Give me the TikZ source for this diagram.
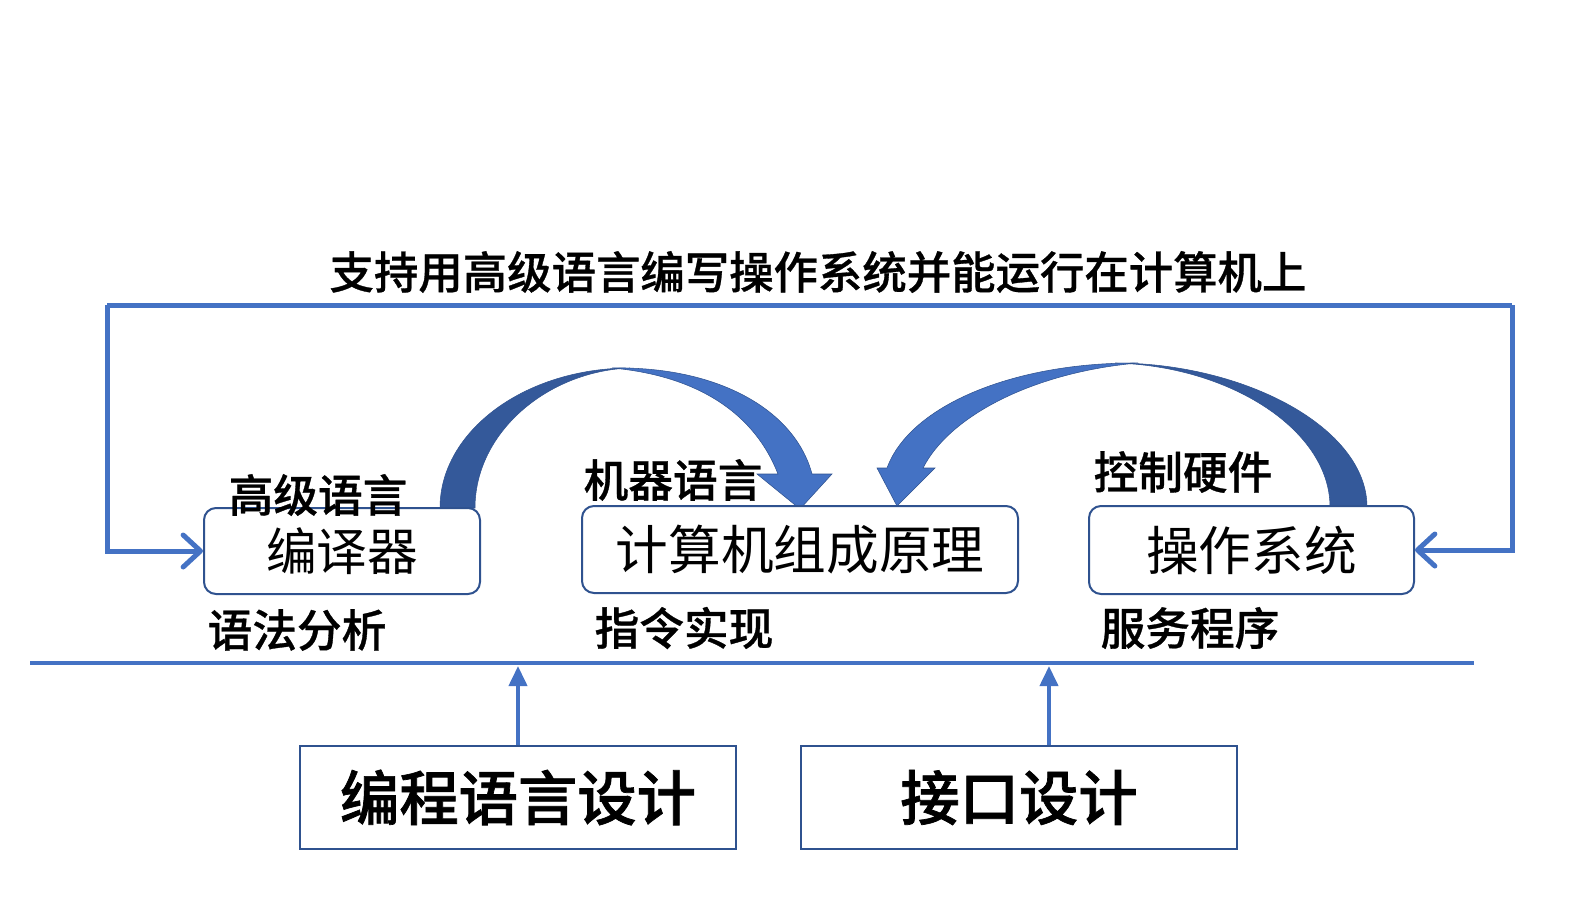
\documentclass[tikz,border=0pt]{standalone}
\usepackage{fontspec}
\newfontfamily\cjk{Noto Sans CJK SC}
\IfFontExistsTF{Noto Sans CJK SC Medium}
  {\newfontfamily\cjkb{Noto Sans CJK SC Medium}[FakeBold=0.7]
   \newfontfamily\cjkbb{Noto Sans CJK SC Medium}[FakeBold=1.2]}
  {\newfontfamily\cjkb{Noto Sans CJK SC}[FakeBold=1.5]
   \newfontfamily\cjkbb{Noto Sans CJK SC}[FakeBold=2]}
\usetikzlibrary{arrows.meta}
\definecolor{lblue}{HTML}{4472C4}
\definecolor{dblue}{HTML}{34599A}
\definecolor{bord}{HTML}{2F528F}
\begin{document}
\begin{tikzpicture}[x=0.75pt,y=-0.75pt,
  every node/.style={inner sep=0pt, font=\cjk},
  roundbox/.style={draw=bord, line width=1.5pt, rounded corners=9pt, fill=white},
  sqbox/.style={draw=bord, line width=1.5pt, fill=white, minimum width=327pt, minimum height=77pt},
  fb/.style={draw=lblue, line width=3.75pt},
  fbtip/.style={-{Straight Barb[length=13pt,width=24pt,round]}},
  divline/.style={draw=lblue, line width=3.6pt},
  uparrow/.style={draw=lblue, line width=3pt, -{Triangle[length=15pt,width=13.5pt]}},
  lbl/.style={font=\cjkb\fontsize{33.5}{38}\selectfont},
  boxtxt/.style={font=\cjk\fontsize{39.5}{44}\selectfont},
  bigtxt/.style={font=\cjkbb\fontsize{44.5}{50}\selectfont},
  bandline/.style={draw=bord, line width=0.4pt}
]
\useasboundingbox (0,0) rectangle (1574,897);

% curved block arrow 1 (compiler -> computer organisation)
\filldraw[fill=dblue, bandline] (440,508) .. controls (440,431) and (525,368) .. (630,368)
  .. controls (548,371) and (475,432) .. (475,508) -- cycle;
\filldraw[fill=lblue, bandline] (612,368) .. controls (718,366) and (795,410) .. (812,474)
  -- (832,474) -- (800,509) -- (757,474) -- (778,474)
  .. controls (755,415) and (700,376) .. (612,368) -- cycle;

% curved block arrow 2 (operating system -> computer organisation)
\filldraw[fill=dblue, bandline] (1367,507) .. controls (1367,428) and (1245,363) .. (1115,363)
  .. controls (1230,366) and (1330,430) .. (1330,507) -- cycle;
\filldraw[fill=lblue, bandline] (1138,363) .. controls (1015,362) and (910,405) .. (887,468)
  -- (877,468) -- (897,506) -- (935,468) -- (923,468)
  .. controls (950,415) and (1035,372) .. (1138,363) -- cycle;

% boxes
\node[roundbox, font=\cjk\fontsize{38}{42}\selectfont, minimum width=207pt, minimum height=64.5pt] (b1) at (342,551) {编译器};
\node[roundbox, boxtxt, minimum width=327pt, minimum height=65.25pt] (b2) at (800,549.5) {计算机组成原理};
\node[roundbox, boxtxt, minimum width=243.75pt, minimum height=66pt] (b3) at (1251.5,550) {操作系统};
\node[sqbox, bigtxt] (b4) at (518,797.5) {编程语言设计};
\node[sqbox, bigtxt] (b5) at (1019,797.5) {接口设计};

% feedback loop
\coordinate (lt) at (107,305);
\coordinate (rt) at (1512,305);
\draw[fb] (lt) -- (rt);
\draw[fb, fbtip] (lt) |- (b1.west);
\draw[fb, fbtip] (rt) |- (b3.east);

% divider and up arrows
\coordinate (dl) at (30,663);
\coordinate (dr) at (1474,663);
\draw[divline] (dl) -- (dr);
\coordinate (a1) at (518,666);
\coordinate (a2) at (1049,666);
\draw[uparrow] (a1 |- b4.north) -- (a1);
\draw[uparrow] (a2 |- b5.north) -- (a2);

% labels
\node[lbl, font=\cjkb\fontsize{33.3}{38}\selectfont] (title) at (818,272) {支持用高级语言编写操作系统并能运行在计算机上};
\node[lbl] (l1) at (318,495) {高级语言};
\node[lbl] (l2) at (673,480) {机器语言};
\node[lbl] (l3) at (1183,472) {控制硬件};
\node[lbl] (l4) at (297,630) {语法分析};
\node[lbl] (l5) at (684,628) {指令实现};
\node[lbl] (l6) at (1190,628) {服务程序};
\end{tikzpicture}
\end{document}
